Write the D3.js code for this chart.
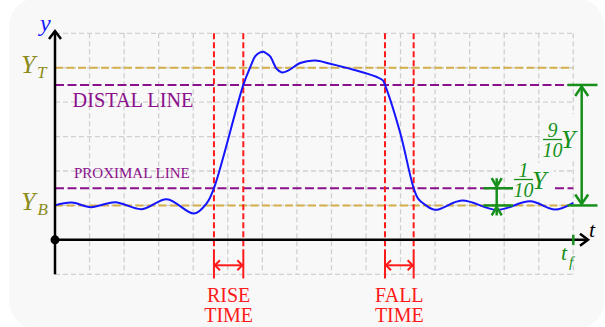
<!DOCTYPE html>
<html>
<head>
<meta charset="utf-8">
<script src="https://cdn.jsdelivr.net/npm/d3@7"></script>
<style>
  html, body { margin: 0; padding: 0; background: #ffffff; }
  svg { display: block; }
  text { font-family: "Liberation Serif", "DejaVu Serif", serif; }
</style>
</head>
<body>
<svg id="chart" width="605" height="327"></svg>
<script>
// Pulse waveform: time samples and amplitudes
const pulseT = [0, 0.484, 1.034, 1.738, 2.511, 3.235, 4.026, 4.393, 4.6, 5.45, 5.668, 5.792, 5.937, 6.032, 6.131, 6.227, 6.421, 6.565, 6.756, 7.095, 7.53, 7.964, 8.639, 9.316, 9.49, 9.55, 9.991, 10.38, 10.513, 10.715, 11.005, 11.778, 12.792, 13.756, 14.466, 15.0];
const pulseY = [1.003, 1.084, 0.951, 1.096, 0.892, 1.183, 0.765, 1.067, 1.5, 4.5, 5.058, 5.328, 5.445, 5.465, 5.407, 5.328, 4.962, 4.863, 4.922, 5.137, 5.212, 5.116, 4.942, 4.730, 4.631, 4.5, 3.102, 1.5, 1.192, 1.017, 0.872, 1.142, 0.872, 1.119, 0.881, 1.076];

// Reference levels
const levelTop = 5;        // Y_T
const levelBase = 1;       // Y_B
const levelDistal = 4.5;   // 90 %
const levelProximal = 1.5; // 10 %

// Crossing times of the proximal / distal lines
const riseTimes = [4.6, 5.45];
const fallTimes = [9.55, 10.38];
const finalTime = 15;

// Grid
const gridT = d3.range(0, 16);
const gridY = d3.range(-1, 7);

const svg = d3.select("#chart");

const x = d3.scaleLinear().domain([0, 15]).range([55, 573.3]);
const y = d3.scaleLinear().domain([-1, 6]).range([274.3, 33.3]);

const COL_GRID = "#d0d0d0";
const COL_TAN = "#d4ae48";
const COL_PURPLE = "#8b108b";
const COL_RED = "#ff1a1a";
const COL_BLUE = "#1515ff";
const COL_GREEN = "#16901a";
const COL_OLIVE = "#8c8c1c";
const PANEL = "#f8f8f8";

// panel
svg.append("rect").attr("x", 9).attr("y", -2).attr("width", 595).attr("height", 331)
  .attr("rx", 28).attr("fill", PANEL);

// grid
const grid = svg.append("g").attr("stroke", COL_GRID).attr("stroke-width", 1.3)
  .attr("stroke-dasharray", "5,3").attr("fill", "none");
gridT.forEach(t => grid.append("line")
  .attr("x1", x(t)).attr("x2", x(t)).attr("y1", y(6)).attr("y2", y(-1)));
gridY.forEach(v => grid.append("line")
  .attr("x1", x(0)).attr("x2", x(15)).attr("y1", y(v)).attr("y2", y(v)));

// label backgrounds hiding grid behind the fraction labels
svg.append("rect").attr("x", 541).attr("y", 114).attr("width", 38).attr("height", 46).attr("fill", PANEL);

// level lines
function hline(v, x2, color, dash) {
  svg.append("line").attr("x1", x(0)).attr("x2", x2).attr("y1", y(v)).attr("y2", y(v))
    .attr("stroke", color).attr("stroke-width", 2).attr("stroke-dasharray", dash);
}
hline(levelTop, x(15), COL_TAN, "8,3.5");
hline(levelBase, x(15), COL_TAN, "8,3.5");
hline(levelDistal, x(15), COL_PURPLE, "9,3.5");
hline(levelProximal, x(15), COL_PURPLE, "9,3.5");

svg.append("rect").attr("x", 512).attr("y", 163).attr("width", 42).attr("height", 36).attr("fill", PANEL);

// level captions
svg.append("text").attr("x", 72.5).attr("y", 106.5).attr("font-size", 20.3)
  .attr("fill", COL_PURPLE).text("DISTAL LINE");
svg.append("text").attr("x", 74).attr("y", 178.3).attr("font-size", 15)
  .attr("fill", COL_PURPLE).text("PROXIMAL LINE");

// rise / fall markers
function timeMarker(ts, label) {
  const g = svg.append("g").attr("stroke", COL_RED).attr("stroke-width", 2).attr("fill", "none");
  ts.forEach(t => {
    g.append("line").attr("x1", x(t)).attr("x2", x(t)).attr("y1", y(6)).attr("y2", 250)
      .attr("stroke-dasharray", "6,3");
    g.append("line").attr("x1", x(t)).attr("x2", x(t)).attr("y1", 250).attr("y2", 278.5);
  });
  const ay = 265.3, a = x(ts[0]), b = x(ts[1]);
  g.append("line").attr("x1", a).attr("x2", b).attr("y1", ay).attr("y2", ay);
  g.append("path").attr("d", `M${a + 6},${ay - 5}L${a + 1},${ay}L${a + 6},${ay + 5}`);
  g.append("path").attr("d", `M${b - 6},${ay - 5}L${b - 1},${ay}L${b - 6},${ay + 5}`);
  const cx = (a + b) / 2;
  label.forEach((s, i) => svg.append("text").attr("x", cx).attr("y", 301.7 + i * 20.6)
    .attr("text-anchor", "middle").attr("font-size", 20).attr("fill", COL_RED).text(s));
}
timeMarker(riseTimes, ["RISE", "TIME"]);
timeMarker(fallTimes, ["FALL", "TIME"]);

// waveform
const line = d3.line().x(d => x(d[0])).y(d => y(d[1])).curve(d3.curveCatmullRom.alpha(0.5));
svg.append("path").datum(d3.zip(pulseT, pulseY)).attr("d", line)
  .attr("fill", "none").attr("stroke", COL_BLUE).attr("stroke-width", 2);

// axes
const ax = svg.append("g").attr("stroke", "#000").attr("stroke-width", 2.5).attr("fill", "none");
ax.append("line").attr("x1", x(0)).attr("x2", x(0)).attr("y1", y(-1)).attr("y2", 31);
ax.append("path").attr("d", `M${x(0) - 6},${39}L${x(0)},${31}L${x(0) + 6},${39}`);
ax.append("line").attr("x1", x(0)).attr("x2", 588).attr("y1", y(0)).attr("y2", y(0));
ax.append("path").attr("d", `M${580},${y(0) - 6}L${588},${y(0)}L${580},${y(0) + 6}`);
svg.append("circle").attr("cx", x(0)).attr("cy", y(0)).attr("r", 4.5).attr("fill", "#000");

svg.append("text").attr("x", 40).attr("y", 31).attr("font-size", 24).attr("font-style", "italic")
  .attr("fill", COL_BLUE).text("y");
svg.append("text").attr("x", 589).attr("y", 236.5).attr("font-size", 22).attr("font-style", "italic")
  .attr("fill", "#000").text("t");

// labels with subscripts, main symbol and index as separate texts
function subLabel(px, py, main, sub, color, size, subSize, subX, subY) {
  svg.append("text").attr("x", px).attr("y", py).attr("font-style", "italic")
    .attr("fill", color).attr("font-size", size).text(main);
  svg.append("text").attr("x", subX).attr("y", subY).attr("font-style", "italic")
    .attr("fill", color).attr("font-size", subSize).text(sub);
}
subLabel(21, y(levelTop) + 5, "Y", "T", COL_OLIVE, 26, 17, 37, y(levelTop) + 10);
subLabel(21, y(levelBase) + 5, "Y", "B", COL_OLIVE, 26, 17, 37.5, y(levelBase) + 10);

// final time marker
svg.append("line").attr("x1", x(finalTime)).attr("x2", x(finalTime)).attr("y1", y(0) - 5).attr("y2", y(0) + 5)
  .attr("stroke", COL_GREEN).attr("stroke-width", 2.5);
subLabel(561, 260, "t", "f", COL_GREEN, 22, 15, 569, 267);

// 90 % span arrow
const gg = svg.append("g").attr("stroke", COL_GREEN).attr("stroke-width", 2.5).attr("fill", "none");
const sx = 581.7;
gg.append("line").attr("x1", 567.5).attr("x2", 597.5).attr("y1", y(levelDistal)).attr("y2", y(levelDistal));
gg.append("line").attr("x1", 567.5).attr("x2", 597.5).attr("y1", y(levelBase)).attr("y2", y(levelBase));
gg.append("line").attr("x1", sx).attr("x2", sx).attr("y1", y(levelDistal) + 1).attr("y2", y(levelBase) - 1);
gg.append("path").attr("d", `M${sx - 6.5},${y(levelDistal) + 11}L${sx},${y(levelDistal) + 1.5}L${sx + 6.5},${y(levelDistal) + 11}`);
gg.append("path").attr("d", `M${sx - 6.5},${y(levelBase) - 11}L${sx},${y(levelBase) - 1.5}L${sx + 6.5},${y(levelBase) - 11}`);

// 10 % span marker
const mx = 496.7;
gg.append("line").attr("x1", 483.5).attr("x2", 513).attr("y1", y(levelProximal)).attr("y2", y(levelProximal));
gg.append("line").attr("x1", 483.5).attr("x2", 513).attr("y1", y(levelBase)).attr("y2", y(levelBase));
gg.append("line").attr("x1", mx).attr("x2", mx).attr("y1", y(levelProximal) - 10).attr("y2", y(levelBase) + 10);
gg.append("path").attr("d", `M${mx - 5},${y(levelProximal) - 10}L${mx},${y(levelProximal) - 1.5}L${mx + 5},${y(levelProximal) - 10}`);
gg.append("path").attr("d", `M${mx - 5},${y(levelBase) + 10}L${mx},${y(levelBase) + 1.5}L${mx + 5},${y(levelBase) + 10}`);

// fraction labels
function fracLabel(cx, barY, num, den, yx, yy, yPx) {
  svg.append("text").attr("x", cx).attr("y", barY - 3).attr("text-anchor", "middle")
    .attr("font-size", 20).attr("font-style", "italic").attr("fill", COL_GREEN).text(num);
  svg.append("line").attr("x1", cx - 9.5).attr("x2", cx + 9.5).attr("y1", barY).attr("y2", barY)
    .attr("stroke", COL_GREEN).attr("stroke-width", 1.3);
  svg.append("text").attr("x", cx).attr("y", barY + 17).attr("text-anchor", "middle")
    .attr("font-size", 20).attr("font-style", "italic").attr("fill", COL_GREEN).text(den);
  svg.append("text").attr("x", yx).attr("y", yy).attr("font-size", yPx).attr("font-style", "italic")
    .attr("fill", COL_GREEN).text("Y");
}
fracLabel(552.5, 139.5, "9", "10", 561, 147.5, 26);
fracLabel(523.5, 179.5, "1", "10", 532, 189, 26);
</script>
</body>
</html>
